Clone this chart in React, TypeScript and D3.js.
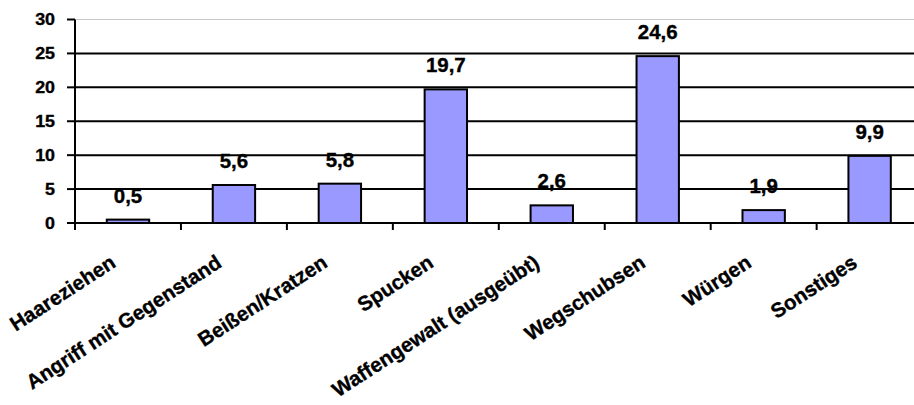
import React, { useRef, useEffect } from "react";
import * as d3 from "d3";

const categories = [
  "Haareziehen",
  "Angriff mit Gegenstand",
  "Beißen/Kratzen",
  "Spucken",
  "Waffengewalt (ausgeübt)",
  "Wegschubsen",
  "Würgen",
  "Sonstiges",
];
const values = [0.5, 5.6, 5.8, 19.7, 2.6, 24.6, 1.9, 9.9];
const yTicks = [0, 5, 10, 15, 20, 25, 30];

const FONT = "'Liberation Sans', Arial, sans-serif";
const STRETCH = 1.05; // glyphs in the picture run a touch wide

export default function App() {
  const svgRef = useRef<SVGSVGElement>(null);
  const width = 914;
  const height = 405;

  useEffect(() => {
    const svg = d3.select(svgRef.current);
    svg.selectAll("*").remove();

    const left = 75;
    const right = 922.6; // plot runs a bit past the window edge
    const top = 19.5;
    const bottom = 223;

    const y = d3.scaleLinear().domain([0, 30]).range([bottom, top]);
    const x = d3
      .scaleBand()
      .domain(categories)
      .range([left, right])
      .paddingInner(0.6)
      .paddingOuter(0.3);
    const xCell = d3.scaleBand().domain(categories).range([left, right]);

    svg.append("rect").attr("width", width).attr("height", height).attr("fill", "#fff");

    // gridlines
    svg
      .append("g")
      .selectAll("line")
      .data(yTicks.filter((t) => t > 0))
      .enter()
      .append("line")
      .attr("x1", left)
      .attr("x2", right)
      .attr("y1", (d) => y(d))
      .attr("y2", (d) => y(d))
      .attr("stroke", (d) => (d === 30 ? "#c8c8c8" : "#000"))
      .attr("stroke-width", (d) => (d === 30 ? 1 : 2));

    // bars
    svg
      .append("g")
      .selectAll("rect")
      .data(values)
      .enter()
      .append("rect")
      .attr("x", (d, i) => x(categories[i])!)
      .attr("y", (d) => y(d))
      .attr("width", x.bandwidth())
      .attr("height", (d) => bottom - y(d))
      .attr("fill", "#9999FF")
      .attr("stroke", "#000")
      .attr("stroke-width", 2);

    // value labels
    svg
      .append("g")
      .selectAll("text")
      .data(values)
      .enter()
      .append("text")
      .attr(
        "transform",
        (d, i) =>
          `translate(${x(categories[i])! + x.bandwidth() / 2},${y(d) - 17}) scale(${STRETCH},1)`
      )
      .attr("text-anchor", "middle")
      .attr("font-family", FONT)
      .attr("font-weight", "bold")
      .attr("font-size", 19.5)
      .attr("fill", "#000")
      .attr("stroke", "#000")
      .attr("stroke-width", 0.35)
      .text((d) => d3.format(".1f")(d).replace(".", ","));

    // axes
    svg
      .append("line")
      .attr("x1", left)
      .attr("x2", left)
      .attr("y1", top)
      .attr("y2", bottom + 1)
      .attr("stroke", "#000")
      .attr("stroke-width", 2);
    svg
      .append("line")
      .attr("x1", left - 1)
      .attr("x2", right)
      .attr("y1", bottom)
      .attr("y2", bottom)
      .attr("stroke", "#000")
      .attr("stroke-width", 2);

    // y ticks
    const yg = svg.append("g");
    yg.selectAll("line")
      .data(yTicks)
      .enter()
      .append("line")
      .attr("x1", left - 8)
      .attr("x2", left)
      .attr("y1", (d) => y(d))
      .attr("y2", (d) => y(d))
      .attr("stroke", "#000")
      .attr("stroke-width", 2);
    yg.selectAll("text")
      .data(yTicks)
      .enter()
      .append("text")
      .attr("transform", (d) => `translate(${left - 20},${y(d)}) scale(${STRETCH},1)`)
      .attr("text-anchor", "end")
      .attr("dominant-baseline", "central")
      .attr("font-family", FONT)
      .attr("font-weight", "bold")
      .attr("font-size", 17)
      .attr("fill", "#000")
      .attr("stroke", "#000")
      .attr("stroke-width", 0.35)
      .text((d) => d);

    // x ticks
    const edges = categories.map((c) => xCell(c)!).concat([right]);
    svg
      .append("g")
      .selectAll("line")
      .data(edges)
      .enter()
      .append("line")
      .attr("x1", (d) => d)
      .attr("x2", (d) => d)
      .attr("y1", bottom)
      .attr("y2", bottom + 7)
      .attr("stroke", "#000")
      .attr("stroke-width", 2);

    // category labels, rotated
    svg
      .append("g")
      .selectAll("text")
      .data(categories)
      .enter()
      .append("text")
      .attr(
        "transform",
        (d) => `translate(${xCell(d)! + xCell.bandwidth() / 2 - 11},266) rotate(-33)`
      )
      .attr("text-anchor", "end")
      .attr("font-family", FONT)
      .attr("font-weight", "bold")
      .attr("font-size", 20.5)
      .attr("fill", "#000")
      .attr("stroke", "#000")
      .attr("stroke-width", 0.35)
      .text((d) => d);
  }, []);

  return (
    <svg
      ref={svgRef}
      width={width}
      height={height}
      viewBox={`0 0 ${width} ${height}`}
      style={{ position: "absolute", left: 0, top: 0, display: "block" }}
    />
  );
}
